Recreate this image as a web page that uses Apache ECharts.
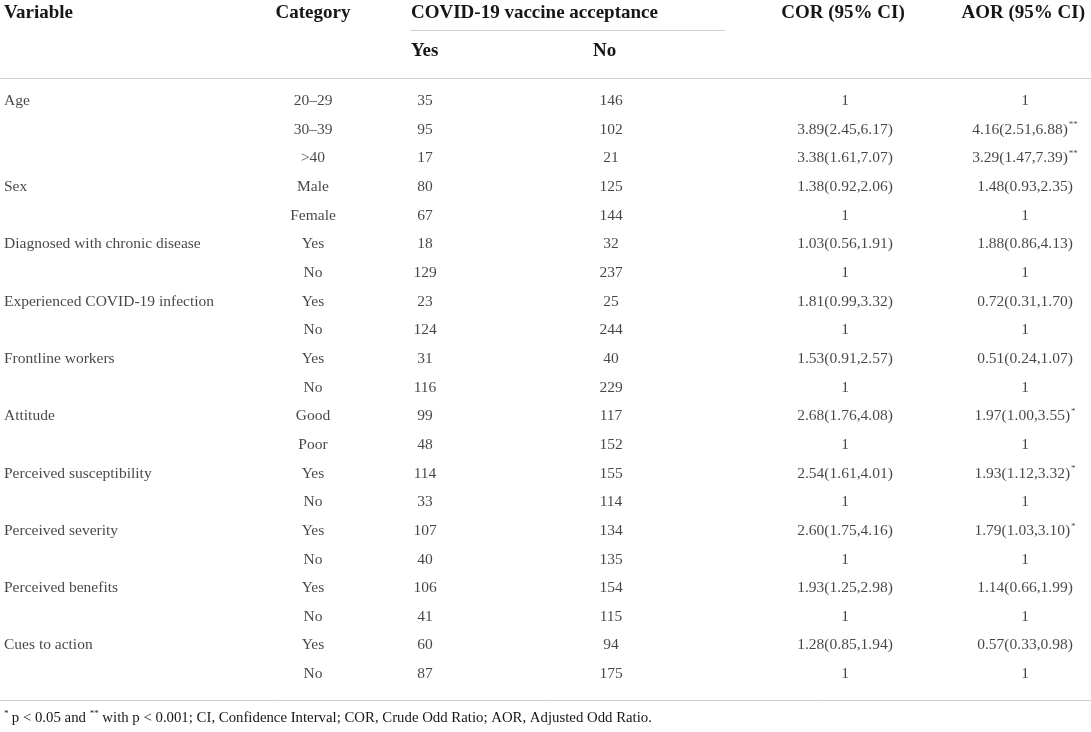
<!DOCTYPE html>
<html>
<head>
<meta charset="utf-8">
<script src="https://cdn.jsdelivr.net/npm/echarts@6/dist/echarts.min.js"></script>
<style>
  html, body { margin: 0; padding: 0; background: #fff; }
  #main { width: 1091px; height: 732px; }
</style>
</head>
<body>
<div id="main"></div>
<script>
// table content, one entry per body row
var variables = ['Age', '', '', 'Sex', '', 'Diagnosed with chronic disease', '', 'Experienced COVID-19 infection', '',
    'Frontline workers', '', 'Attitude', '', 'Perceived susceptibility', '', 'Perceived severity', '',
    'Perceived benefits', '', 'Cues to action', ''];
var categories = ['20\u201329', '30\u201339', '>40', 'Male', 'Female', 'Yes', 'No', 'Yes', 'No', 'Yes', 'No',
    'Good', 'Poor', 'Yes', 'No', 'Yes', 'No', 'Yes', 'No', 'Yes', 'No'];
var yesCounts = [35, 95, 17, 80, 67, 18, 129, 23, 124, 31, 116, 99, 48, 114, 33, 107, 40, 106, 41, 60, 87];
var noCounts = [146, 102, 21, 125, 144, 32, 237, 25, 244, 40, 229, 117, 152, 155, 114, 134, 135, 154, 115, 94, 175];
var corCI = ['1', '3.89(2.45,6.17)', '3.38(1.61,7.07)', '1.38(0.92,2.06)', '1', '1.03(0.56,1.91)', '1',
    '1.81(0.99,3.32)', '1', '1.53(0.91,2.57)', '1', '2.68(1.76,4.08)', '1', '2.54(1.61,4.01)', '1',
    '2.60(1.75,4.16)', '1', '1.93(1.25,2.98)', '1', '1.28(0.85,1.94)', '1'];
var aorCI = ['1', '4.16(2.51,6.88)', '3.29(1.47,7.39)', '1.48(0.93,2.35)', '1', '1.88(0.86,4.13)', '1',
    '0.72(0.31,1.70)', '1', '0.51(0.24,1.07)', '1', '1.97(1.00,3.55)', '1', '1.93(1.12,3.32)', '1',
    '1.79(1.03,3.10)', '1', '1.14(0.66,1.99)', '1', '0.57(0.33,0.98)', '1'];
var aorSig = ['', '**', '**', '', '', '', '', '', '', '', '', '*', '', '*', '', '*', '', '', '', '', ''];

// layout
var W = 1091;
var FONT = '"Liberation Serif", "DejaVu Serif", serif';
var TXT = '#161616';
var LINE = '#d0d0d0';
var colX = { variable: 4, category: 313, yes: 425, no: 611, cor: 845, aor: 1025 };

var rowIdx = variables.map(function (v, i) { return i; });

function col(key, values, align, sig) {
    return {
        type: 'scatter',
        symbolSize: 0,
        silent: true,
        data: values.map(function (v, i) { return [colX[key], i, String(v), sig ? sig[i] : '']; }),
        label: {
            show: true,
            position: 'inside',
            align: align,
            verticalAlign: 'middle',
            color: TXT,
            formatter: function (p) {
                var s = '{m|' + p.data[2] + '}';
                if (p.data[3]) s += '{s|' + p.data[3] + '}';
                return s;
            },
            rich: {
                m: { fontFamily: FONT, fontSize: 15.5, color: TXT },
                s: { fontFamily: FONT, fontSize: 9, color: TXT, verticalAlign: 'top', padding: [0, 0, 9, 1] }
            }
        }
    };
}

function hdr(text, x, y, align) {
    return {
        type: 'text', x: x, y: y,
        style: { text: text, fontFamily: FONT, fontSize: 19, fontWeight: 'bold', fill: TXT, align: align, verticalAlign: 'middle' }
    };
}

var chart = echarts.init(document.getElementById('main'));
chart.setOption({
    backgroundColor: '#fff',
    animation: false,
    grid: { left: 0, right: 0, top: 86.6, bottom: 43.6 },
    xAxis: { type: 'value', min: 0, max: W, show: false },
    yAxis: { type: 'category', data: rowIdx, inverse: true, show: false },
    series: [
        col('variable', variables, 'left'),
        col('category', categories, 'center'),
        col('yes', yesCounts, 'center'),
        col('no', noCounts, 'center'),
        col('cor', corCI, 'center'),
        col('aor', aorCI, 'center', aorSig)
    ],
    graphic: [
        hdr('Variable', 4, 13, 'left'),
        hdr('Category', 313, 13, 'center'),
        hdr('COVID-19 vaccine acceptance', 411, 13, 'left'),
        hdr('Yes', 411, 51, 'left'),
        hdr('No', 593, 51, 'left'),
        hdr('COR (95% CI)', 843, 13, 'center'),
        hdr('AOR (95% CI)', 1085, 13, 'right'),
        { type: 'line', shape: { x1: 410, y1: 30.5, x2: 725, y2: 30.5 }, style: { stroke: LINE, lineWidth: 1 } },
        { type: 'line', shape: { x1: 0, y1: 78.5, x2: W, y2: 78.5 }, style: { stroke: LINE, lineWidth: 1 } },
        { type: 'line', shape: { x1: 0, y1: 700.5, x2: W, y2: 700.5 }, style: { stroke: LINE, lineWidth: 1 } },
        {
            type: 'text', x: 4, y: 718,
            style: {
                text: '{s|*} {m|p < 0.05 and }{s|**}{m| with p < 0.001; CI, Confidence Interval; COR, Crude Odd Ratio; AOR, Adjusted Odd Ratio.}',
                verticalAlign: 'middle',
                rich: {
                    m: { fontFamily: FONT, fontSize: 14.8, fill: TXT },
                    s: { fontFamily: FONT, fontSize: 9, fill: TXT, verticalAlign: 'top', padding: [0, 0, 8, 0] }
                }
            }
        }
    ]
});
</script>
</body>
</html>
